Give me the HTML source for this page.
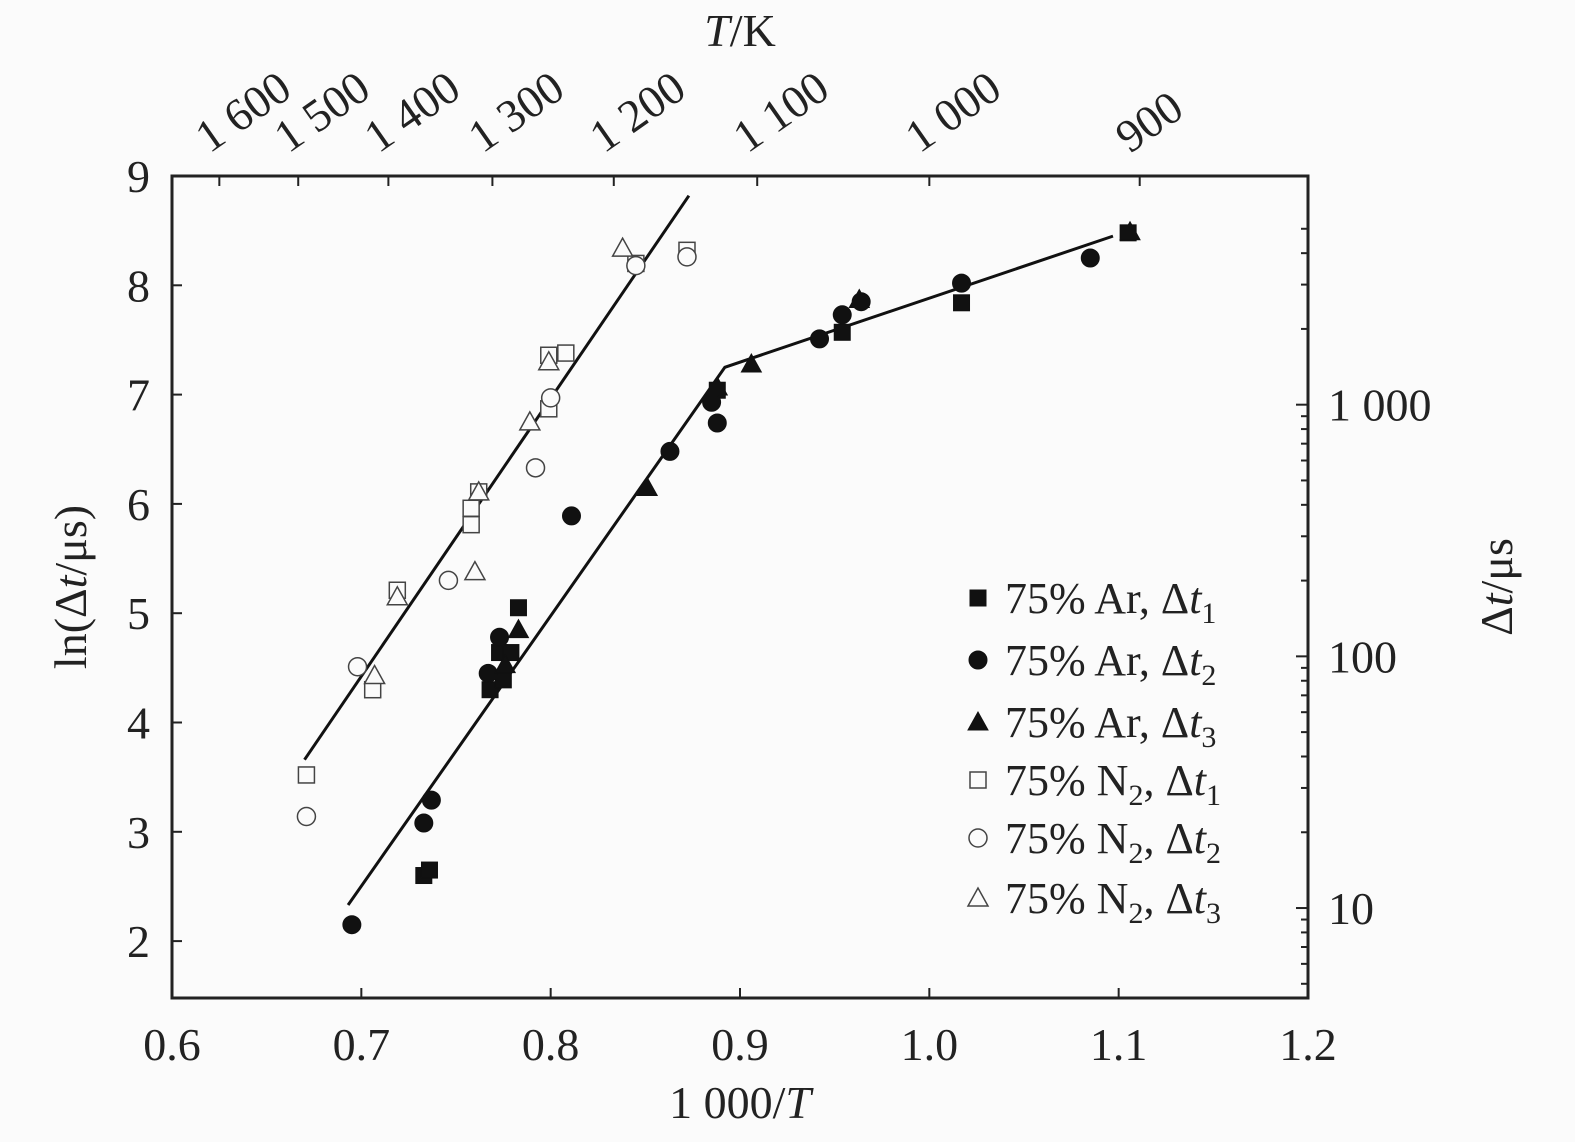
<!DOCTYPE html>
<html><head><meta charset="utf-8"><style>
body{margin:0;background:#fff;}
svg text{font-family:"Liberation Serif","DejaVu Serif",serif;fill:#222;}
</style></head><body>
<svg id="chart" width="1575" height="1142" xmlns="http://www.w3.org/2000/svg" font-family="Liberation Serif, DejaVu Serif, serif">
<rect width="1575" height="1142" fill="#fbfbfb"/>
<g id="g"></g>
</svg>
<script>
const xTicks=[0.6,0.7,0.8,0.9,1.0,1.1,1.2];
const xTickLabels=["0.6","0.7","0.8","0.9","1.0","1.1","1.2"];
const yTicks=[2,3,4,5,6,7,8,9];
const topT=[1600,1500,1400,1300,1200,1100,1000,900];
const topLabels=["1 600","1 500","1 400","1 300","1 200","1 100","1 000","900"];
const rightMajor=[10,100,1000];
const rightLabels=["10","100","1 000"];
const arSqX=[0.733,0.736,0.768,0.775,0.773,0.779,0.783,0.888,0.954,1.017,1.105];
const arSqY=[2.60,2.65,4.30,4.39,4.64,4.64,5.05,7.04,7.57,7.84,8.48];
const arCiX=[0.695,0.733,0.737,0.767,0.773,0.811,0.863,0.885,0.888,0.942,0.954,0.964,1.017,1.085];
const arCiY=[2.15,3.08,3.29,4.45,4.78,5.89,6.48,6.93,6.74,7.51,7.73,7.85,8.02,8.25];
const arTrX=[0.776,0.783,0.851,0.888,0.906,0.963,1.106];
const arTrY=[4.53,4.85,6.15,7.07,7.28,7.87,8.49];
const nSqX=[0.671,0.706,0.719,0.758,0.758,0.762,0.799,0.799,0.808,0.845,0.872];
const nSqY=[3.52,4.30,5.21,5.81,5.96,6.11,6.87,7.36,7.38,8.20,8.32];
const nCiX=[0.671,0.698,0.746,0.792,0.800,0.845,0.872];
const nCiY=[3.14,4.51,5.30,6.33,6.97,8.18,8.26];
const nTrX=[0.707,0.719,0.760,0.762,0.789,0.799,0.838];
const nTrY=[4.43,5.15,5.38,6.11,6.75,7.30,8.34];
const fitN2X=[0.670,0.873];
const fitN2Y=[3.66,8.82];
const fitArX=[0.693,0.892,1.097];
const fitArY=[2.33,7.25,8.45];

const L=172,R=1308,T=176,B=998;
const sx=v=>L+(v-0.6)/0.6*(R-L);
const sy=v=>T+(9-v)*109.3;
const g=document.getElementById('g');
const NS='http://www.w3.org/2000/svg';
function mk(tag,attrs,parent){const e=document.createElementNS(NS,tag);for(const k in attrs)e.setAttribute(k,attrs[k]);(parent||g).appendChild(e);return e;}

let f=mk('rect',{x:L,y:T,width:R-L,height:B-T,fill:'none',stroke:'#222','stroke-width':3});



xTicks.forEach((v,i)=>{
 let t=mk('line',{x1:sx(v),x2:sx(v),y1:B,y2:B-10,stroke:'#222','stroke-width':2});
 
 
 let l=mk('text',{x:sx(v),y:B+62,'font-size':46,'text-anchor':'middle'});l.textContent=xTickLabels[i];
 
 
});
yTicks.forEach(v=>{
 let t=mk('line',{x1:L,x2:L+10,y1:sy(v),y2:sy(v),stroke:'#222','stroke-width':2});
 
 
 let l=mk('text',{x:L-22,y:sy(v)+16,'font-size':46,'text-anchor':'end'});l.textContent=String(v);
 
 
});
topT.forEach((tk,i)=>{
 const x=sx(1000/tk);
 let t=mk('line',{x1:x,x2:x,y1:T,y2:T+10,stroke:'#222','stroke-width':2});
 
 
 let l=mk('text',{x:0,y:0,'font-size':46,'text-anchor':'start',transform:`translate(${x-10},${T-22}) rotate(-35)`});l.textContent=topLabels[i];
 
 
});
for(let d=1;d<=1000;d*=10){for(let m=1;m<10;m++){const val=d*m;if(val<5||val>5000)continue;const y=sy(Math.log(val));if(y<T||y>B)continue;
 const major=rightMajor.includes(val);
 let t=mk('line',{x1:R,x2:R-(major?12:7),y1:y,y2:y,stroke:'#222','stroke-width':2});
 
 
}}
rightMajor.forEach((v,i)=>{
 let l=mk('text',{x:R+20,y:sy(Math.log(v))+16,'font-size':46});l.textContent=rightLabels[i];
 
 
});

function line(xs,ys,name){let p=mk('polyline',{points:xs.map((x,i)=>sx(x)+','+sy(ys[i])).join(' '),fill:'none',stroke:'#111','stroke-width':3});
 
 }
line(fitN2X,fitN2Y,'fit-line-n2');
line(fitArX,fitArY,'fit-line-ar');

function marker(type,filled,x,y,parent){
 const fill=filled?'#111':'#fbfbfb',st=filled?'#111':'#444',sw=filled?1:1.5;
 if(type==='s')return mk('rect',{x:x-8,y:y-8,width:16,height:16,fill,stroke:st,'stroke-width':sw},parent);
 if(type==='c')return mk('circle',{cx:x,cy:y,r:9,fill,stroke:st,'stroke-width':sw},parent);
 return mk('polygon',{points:`${x},${y-10} ${x-10},${y+8} ${x+10},${y+8}`,fill,stroke:st,'stroke-width':sw},parent);
}
function series(xs,ys,type,filled,name){xs.forEach((x,i)=>{let m=marker(type,filled,sx(x),sy(ys[i]));
 
 });}
series(nSqX,nSqY,'s',false,'n2-dt1-point');
series(nCiX,nCiY,'c',false,'n2-dt2-point');
series(nTrX,nTrY,'t',false,'n2-dt3-point');
series(arSqX,arSqY,'s',true,'ar-dt1-point');
series(arCiX,arCiY,'c',true,'ar-dt2-point');
series(arTrX,arTrY,'t',true,'ar-dt3-point');

const legend=[['s',true,'Ar','1'],['c',true,'Ar','2'],['t',true,'Ar','3'],['s',false,'N2','1'],['c',false,'N2','2'],['t',false,'N2','3']];
const ly=[598,660,722,780,838,898];
legend.forEach((e,i)=>{
 let m=marker(e[0],e[1],978,ly[i]);
 
 
 let t=mk('text',{x:1005,y:ly[i]+15,'font-size':44});
 
 
 t.innerHTML=e[2]==='Ar'?`75% Ar, Δ<tspan font-style="italic">t</tspan><tspan font-size="30" dy="10">${e[3]}</tspan>`:`75% N<tspan font-size="30" dy="10">2</tspan><tspan dy="-10">, Δ</tspan><tspan font-style="italic">t</tspan><tspan font-size="30" dy="10">${e[3]}</tspan>`;
});

let xt=mk('text',{x:740,y:1118,'font-size':46,'text-anchor':'middle'});xt.innerHTML='1 000/<tspan font-style="italic">T</tspan>';


let tt=mk('text',{x:740,y:46,'font-size':46,'text-anchor':'middle'});tt.innerHTML='<tspan font-style="italic">T</tspan>/K';


let yt=mk('text',{x:0,y:0,'font-size':46,'text-anchor':'middle',transform:'translate(86,587) rotate(-90)'});yt.innerHTML='ln(Δ<tspan font-style="italic">t</tspan>/μs)';


let rt=mk('text',{x:0,y:0,'font-size':46,'text-anchor':'middle',transform:'translate(1512,587) rotate(-90)'});rt.innerHTML='Δ<tspan font-style="italic">t</tspan>/μs';


</script>
</body></html>
